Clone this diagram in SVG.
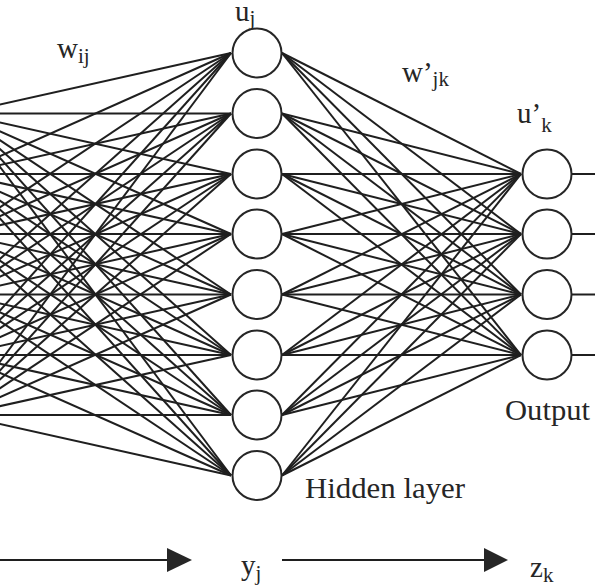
<svg xmlns="http://www.w3.org/2000/svg" width="595" height="586" viewBox="0 0 595 586">
<style>
.c{stroke:#1f1f1f;stroke-width:2;fill:none}
.n{fill:#fff;stroke:#262626;stroke-width:2}
.t{fill:#262626;font-size:29px}
.s{font-size:21px}
</style>
<rect width="595" height="586" fill="#fff"/>
<g id="connectors">
<line class="c" x1="-40" y1="113.5" x2="231" y2="53"/><line class="c" x1="-40" y1="113.5" x2="231" y2="113.5"/><line class="c" x1="-40" y1="113.5" x2="231" y2="174"/><line class="c" x1="-40" y1="113.5" x2="231" y2="234"/><line class="c" x1="-40" y1="113.5" x2="231" y2="294.5"/><line class="c" x1="-40" y1="113.5" x2="231" y2="355"/><line class="c" x1="-40" y1="113.5" x2="231" y2="415"/><line class="c" x1="-40" y1="113.5" x2="231" y2="475.5"/>
<line class="c" x1="-40" y1="174" x2="231" y2="53"/><line class="c" x1="-40" y1="174" x2="231" y2="113.5"/><line class="c" x1="-40" y1="174" x2="231" y2="174"/><line class="c" x1="-40" y1="174" x2="231" y2="234"/><line class="c" x1="-40" y1="174" x2="231" y2="294.5"/><line class="c" x1="-40" y1="174" x2="231" y2="355"/><line class="c" x1="-40" y1="174" x2="231" y2="415"/><line class="c" x1="-40" y1="174" x2="231" y2="475.5"/>
<line class="c" x1="-40" y1="234" x2="231" y2="53"/><line class="c" x1="-40" y1="234" x2="231" y2="113.5"/><line class="c" x1="-40" y1="234" x2="231" y2="174"/><line class="c" x1="-40" y1="234" x2="231" y2="234"/><line class="c" x1="-40" y1="234" x2="231" y2="294.5"/><line class="c" x1="-40" y1="234" x2="231" y2="355"/><line class="c" x1="-40" y1="234" x2="231" y2="415"/><line class="c" x1="-40" y1="234" x2="231" y2="475.5"/>
<line class="c" x1="-40" y1="294.5" x2="231" y2="53"/><line class="c" x1="-40" y1="294.5" x2="231" y2="113.5"/><line class="c" x1="-40" y1="294.5" x2="231" y2="174"/><line class="c" x1="-40" y1="294.5" x2="231" y2="234"/><line class="c" x1="-40" y1="294.5" x2="231" y2="294.5"/><line class="c" x1="-40" y1="294.5" x2="231" y2="355"/><line class="c" x1="-40" y1="294.5" x2="231" y2="415"/><line class="c" x1="-40" y1="294.5" x2="231" y2="475.5"/>
<line class="c" x1="-40" y1="355" x2="231" y2="53"/><line class="c" x1="-40" y1="355" x2="231" y2="113.5"/><line class="c" x1="-40" y1="355" x2="231" y2="174"/><line class="c" x1="-40" y1="355" x2="231" y2="234"/><line class="c" x1="-40" y1="355" x2="231" y2="294.5"/><line class="c" x1="-40" y1="355" x2="231" y2="355"/><line class="c" x1="-40" y1="355" x2="231" y2="415"/><line class="c" x1="-40" y1="355" x2="231" y2="475.5"/>
<line class="c" x1="-40" y1="415" x2="231" y2="53"/><line class="c" x1="-40" y1="415" x2="231" y2="113.5"/><line class="c" x1="-40" y1="415" x2="231" y2="174"/><line class="c" x1="-40" y1="415" x2="231" y2="234"/><line class="c" x1="-40" y1="415" x2="231" y2="294.5"/><line class="c" x1="-40" y1="415" x2="231" y2="355"/><line class="c" x1="-40" y1="415" x2="231" y2="415"/><line class="c" x1="-40" y1="415" x2="231" y2="475.5"/>
<line class="c" x1="282" y1="53" x2="521" y2="174"/><line class="c" x1="282" y1="53" x2="521" y2="234"/><line class="c" x1="282" y1="53" x2="521" y2="294.5"/><line class="c" x1="282" y1="53" x2="521" y2="355"/>
<line class="c" x1="282" y1="113.5" x2="521" y2="174"/><line class="c" x1="282" y1="113.5" x2="521" y2="234"/><line class="c" x1="282" y1="113.5" x2="521" y2="294.5"/><line class="c" x1="282" y1="113.5" x2="521" y2="355"/>
<line class="c" x1="282" y1="174" x2="521" y2="174"/><line class="c" x1="282" y1="174" x2="521" y2="234"/><line class="c" x1="282" y1="174" x2="521" y2="294.5"/><line class="c" x1="282" y1="174" x2="521" y2="355"/>
<line class="c" x1="282" y1="234" x2="521" y2="174"/><line class="c" x1="282" y1="234" x2="521" y2="234"/><line class="c" x1="282" y1="234" x2="521" y2="294.5"/><line class="c" x1="282" y1="234" x2="521" y2="355"/>
<line class="c" x1="282" y1="294.5" x2="521" y2="174"/><line class="c" x1="282" y1="294.5" x2="521" y2="234"/><line class="c" x1="282" y1="294.5" x2="521" y2="294.5"/><line class="c" x1="282" y1="294.5" x2="521" y2="355"/>
<line class="c" x1="282" y1="355" x2="521" y2="174"/><line class="c" x1="282" y1="355" x2="521" y2="234"/><line class="c" x1="282" y1="355" x2="521" y2="294.5"/><line class="c" x1="282" y1="355" x2="521" y2="355"/>
<line class="c" x1="282" y1="415" x2="521" y2="174"/><line class="c" x1="282" y1="415" x2="521" y2="234"/><line class="c" x1="282" y1="415" x2="521" y2="294.5"/><line class="c" x1="282" y1="415" x2="521" y2="355"/>
<line class="c" x1="282" y1="475.5" x2="521" y2="174"/><line class="c" x1="282" y1="475.5" x2="521" y2="234"/><line class="c" x1="282" y1="475.5" x2="521" y2="294.5"/><line class="c" x1="282" y1="475.5" x2="521" y2="355"/>
<line class="c" x1="572" y1="174" x2="600" y2="174"/><line class="c" x1="572" y1="234" x2="600" y2="234"/><line class="c" x1="572" y1="294.5" x2="600" y2="294.5"/><line class="c" x1="572" y1="355" x2="600" y2="355"/>
<line class="c" x1="0" y1="560" x2="170" y2="560"/><polygon points="167,548 192,560 167,572" fill="#262626"/>
<line class="c" x1="282" y1="560" x2="487" y2="560"/><polygon points="484,548 508,560 484,572" fill="#262626"/>
</g>
<g id="hidden1"><circle class="n" cx="257" cy="53" r="24.5"/></g>
<g id="hidden2"><circle class="n" cx="257" cy="113.5" r="24.5"/></g>
<g id="hidden3"><circle class="n" cx="257" cy="174" r="24.5"/></g>
<g id="hidden4"><circle class="n" cx="257" cy="234" r="24.5"/></g>
<g id="hidden5"><circle class="n" cx="257" cy="294.5" r="24.5"/></g>
<g id="hidden6"><circle class="n" cx="257" cy="355" r="24.5"/></g>
<g id="hidden7"><circle class="n" cx="257" cy="415" r="24.5"/></g>
<g id="hidden8"><circle class="n" cx="257" cy="475.5" r="24.5"/></g>
<g id="output1"><circle class="n" cx="547" cy="174" r="24.5"/></g>
<g id="output2"><circle class="n" cx="547" cy="234" r="24.5"/></g>
<g id="output3"><circle class="n" cx="547" cy="294.5" r="24.5"/></g>
<g id="output4"><circle class="n" cx="547" cy="355" r="24.5"/></g>
<g id="labels" font-family="Liberation Serif, Times New Roman, serif">
<text class="t" x="57" y="58">w<tspan class="s" dy="5">ij</tspan></text>
<text class="t" x="235" y="21">u<tspan class="s" dy="4">j</tspan></text>
<text class="t" x="402" y="82">w’<tspan class="s" dy="4">jk</tspan></text>
<text class="t" x="517" y="123">u’<tspan class="s" dy="9">k</tspan></text>
<text class="t" x="305" y="498" textLength="160" lengthAdjust="spacingAndGlyphs">Hidden layer</text>
<text class="t" x="505" y="420" textLength="85" lengthAdjust="spacingAndGlyphs">Output</text>
<text class="t" x="241" y="575">y<tspan class="s" dy="5">j</tspan></text>
<text class="t" x="530" y="577">z<tspan class="s" dy="5">k</tspan></text>
</g>
</svg>
